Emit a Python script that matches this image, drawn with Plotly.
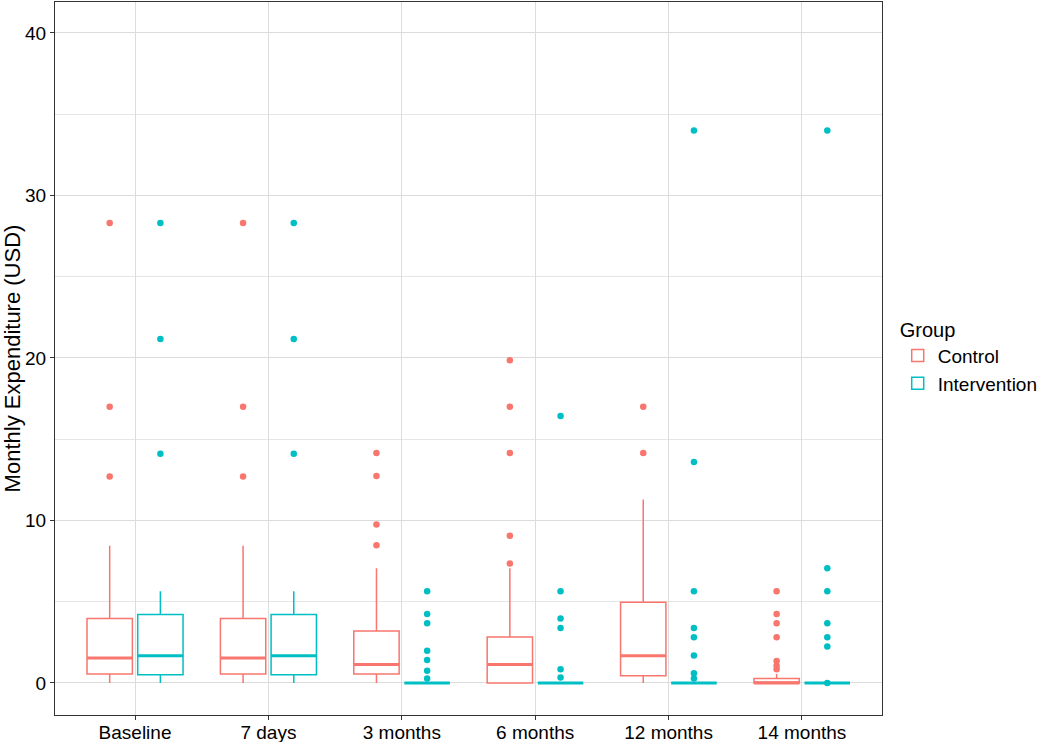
import plotly.graph_objects as go

categories = ["Baseline", "7 days", "3 months", "6 months", "12 months", "14 months"]

# Control box statistics
ctrl_low = [0, 0, 0, 0, 0, 0]
ctrl_q1 = [0.55, 0.55, 0.55, 0, 0.45, 0]
ctrl_med = [1.54, 1.54, 1.13, 1.13, 1.68, 0]
ctrl_q3 = [3.97, 3.97, 3.2, 2.83, 4.97, 0.28]
ctrl_high = [8.45, 8.45, 7.06, 7.06, 11.29, 0.55]
ctrl_out = [
    [28.3, 17.0, 12.7],
    [28.3, 17.0, 12.7],
    [14.15, 12.73, 9.75, 8.48],
    [19.85, 17.0, 14.15, 9.06, 7.35],
    [17.0, 14.15],
    [5.64, 4.25, 3.67, 2.82, 1.36, 1.06, 0.84],
]

# Intervention box statistics
int_low = [0, 0, 0, 0, 0, 0]
int_q1 = [0.51, 0.51, 0, 0, 0, 0]
int_med = [1.68, 1.68, 0, 0, 0, 0]
int_q3 = [4.22, 4.22, 0, 0, 0, 0]
int_high = [5.64, 5.64, 0, 0, 0, 0]
int_out = [
    [28.3, 21.17, 14.1],
    [28.3, 21.17, 14.1],
    [5.64, 4.25, 3.67, 1.98, 1.42, 0.76, 0.28],
    [16.43, 5.64, 3.96, 3.39, 0.84, 0.33],
    [34.0, 13.59, 5.64, 3.39, 2.82, 1.69, 0.6, 0.28],
    [34.0, 7.06, 5.64, 3.67, 2.82, 2.24, 0.0],
]

CTRL = "#F8766D"
INTV = "#00BFC4"
OFFSET = 0.19
BOXW = 0.34
FONT = "Liberation Sans, Arial, sans-serif"

fig = go.Figure()
base = list(range(1, len(categories) + 1))

groups = [
    ("Control", CTRL, -OFFSET, ctrl_low, ctrl_q1, ctrl_med, ctrl_q3, ctrl_high, ctrl_out),
    ("Intervention", INTV, OFFSET, int_low, int_q1, int_med, int_q3, int_high, int_out),
]

for name, col, off, lo, q1, med, q3, hi, outs in groups:
    xs = [b + off for b in base]
    fig.add_trace(go.Box(
        name=name, x=xs, q1=q1, median=med, q3=q3, lowerfence=lo, upperfence=hi,
        width=BOXW, fillcolor="white", line=dict(color=col, width=1.5),
        boxpoints=False, whiskerwidth=0, showlegend=True, hoverinfo="skip",
    ))
    # thicker median lines
    mx, my = [], []
    for x, m in zip(xs, med):
        mx += [x - BOXW / 2, x + BOXW / 2, None]
        my += [m, m, None]
    fig.add_trace(go.Scatter(x=mx, y=my, mode="lines", line=dict(color=col, width=3),
                             showlegend=False, hoverinfo="skip"))
    ox, oy = [], []
    for x, o in zip(xs, outs):
        ox += [x] * len(o)
        oy += o
    fig.add_trace(go.Scatter(x=ox, y=oy, mode="markers",
                             marker=dict(color=col, size=6.5, line=dict(width=0)),
                             showlegend=False, hoverinfo="skip"))

fig.update_layout(
    width=1050, height=742,
    margin=dict(l=55, r=168, t=2, b=27, autoexpand=False),
    paper_bgcolor="white", plot_bgcolor="white",
    boxmode="overlay",
    font=dict(family=FONT, color="black", size=19),
    legend=dict(
        title=dict(text="Group", font=dict(size=20, family=FONT)),
        font=dict(size=19, family=FONT),
        x=1.019, xanchor="left", y=0.567, yanchor="top",
        bgcolor="rgba(0,0,0,0)", tracegroupgap=0, itemwidth=30,
    ),
    xaxis=dict(
        range=[0.4, 6.6], tickvals=base, ticktext=categories,
        automargin=False,
        showgrid=True, gridcolor="#dcdcdc", gridwidth=1,
        zeroline=False, showline=True, linecolor="#333333", linewidth=1.2, mirror=True,
        ticks="outside", ticklen=4, tickcolor="#333333",
        ticklabelstandoff=-4,
        tickfont=dict(size=19, family=FONT, color="black"),
    ),
    yaxis=dict(
        range=[-1.97, 41.9], tickvals=[0, 10, 20, 30, 40],
        automargin=False,
        showgrid=True, gridcolor="#dcdcdc", gridwidth=1,
        minor=dict(tickvals=[5, 15, 25, 35], showgrid=True, gridcolor="#e6e6e6", gridwidth=1, ticks=""),
        zeroline=False, showline=True, linecolor="#333333", linewidth=1.2, mirror=True,
        ticks="outside", ticklen=4, tickcolor="#333333",
        tickfont=dict(size=19, family=FONT, color="black"),
        title=dict(text="Monthly Expenditure (USD)", font=dict(size=22, family=FONT, color="black"), standoff=6),
    ),
)

fig.write_html("out.html", config={"displayModeBar": False},
               post_script="document.body.style.margin='0';document.body.style.overflow='hidden';")
